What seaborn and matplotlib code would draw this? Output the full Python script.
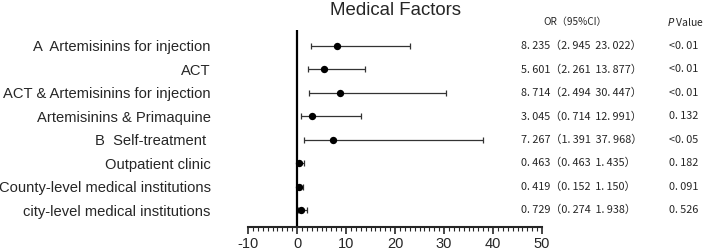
import numpy as np
import pandas as pd
import matplotlib
matplotlib.use('Agg')
import matplotlib.pyplot as plt
import matplotlib.transforms as mtransforms
from matplotlib.ticker import MultipleLocator
import seaborn as sns

# Datos del forest plot
factors = ['A  Artemisinins for injection', 'ACT', 'ACT & Artemisinins for injection',
           'Artemisinins & Primaquine', 'B  Self-treatment ', 'Outpatient clinic',
           'County-level medical institutions', 'city-level medical institutions']
odds = [8.235, 5.601, 8.714, 3.045, 7.267, 0.463, 0.419, 0.729]
ci_low = [2.945, 2.261, 2.494, 0.714, 1.391, 0.463, 0.152, 0.274]
ci_high = [23.022, 13.877, 30.447, 12.991, 37.968, 1.435, 1.150, 1.938]
or_text = ['8. 235（2. 945  23. 022）', '5. 601（2. 261  13. 877）', '8. 714（2. 494  30. 447）',
           '3. 045（0. 714  12. 991）', '7. 267（1. 391  37. 968）', '0. 463（0. 463  1. 435）',
           '0. 419（0. 152  1. 150）', '0. 729（0. 274  1. 938）']
p_text = ['<0. 01', '<0. 01', '<0. 01', '0. 132', '<0. 05', '0. 182', '0. 091', '0. 526']

df = pd.DataFrame({'factor': factors, 'OR': odds, 'low': ci_low, 'high': ci_high})
df['pos'] = np.arange(len(df))

sns.set_style('ticks')
plt.rcParams['font.family'] = ['Liberation Sans', 'DejaVu Sans']
plt.rcParams['axes.unicode_minus'] = False

fig = plt.figure(figsize=(7.08, 2.52), dpi=100)
ax = fig.add_axes([0.3503, 0.0992, 0.4153, 0.7817])

# Intervalos de confianza
ax.errorbar(df['OR'], df['pos'],
            xerr=[df['OR'] - df['low'], df['high'] - df['OR']],
            fmt='none', ecolor='#333333', elinewidth=0.9, capsize=2.3, capthick=0.9)
sns.scatterplot(data=df, x='OR', y='pos', color='black', s=28, edgecolor='black',
                linewidth=0, zorder=3, ax=ax, legend=False)

ax.axvline(0, color='black', lw=1.6, zorder=2)

ax.set_xlim(-10, 50)
ax.set_ylim(7.72, -0.68)
ax.xaxis.set_major_locator(MultipleLocator(10))
ax.xaxis.set_minor_locator(MultipleLocator(1))
ax.tick_params(axis='x', which='major', length=5, width=1.2, labelsize=10.5, pad=2)
ax.tick_params(axis='x', which='minor', length=3, width=0.8)
ax.set_yticks(df['pos'])
ax.set_yticklabels(factors, fontsize=10.6)
ax.tick_params(axis='y', length=0, pad=27)
ax.set_xlabel('')
ax.set_ylabel('')
sns.despine(ax=ax, left=True)
ax.spines['bottom'].set_linewidth(1.5)

fig.text(0.559, 0.96, 'Medical Factors', ha='center', va='center', fontsize=13.4)

# Tabla de OR y P
trans = mtransforms.blended_transform_factory(fig.transFigure, ax.transData)
cjk = ['Noto Sans CJK JP', 'DejaVu Sans']
fig.text(575 / 708, 1 - 22 / 252, 'OR（95%CI）', ha='center', va='center',
         fontsize=7.2, family=cjk)
fig.text(667 / 708, 1 - 22 / 252, '$\\it{P}$ Value', ha='left', va='center',
         fontsize=7.5, family=cjk)
for i in range(len(df)):
    ax.text(521 / 708, i, or_text[i], transform=trans,
            ha='left', va='center', fontsize=7.8, family=cjk)
    ax.text(669 / 708, i, p_text[i], transform=trans,
            ha='left', va='center', fontsize=7.8, family=cjk)

plt.savefig('out.png', dpi=100)
